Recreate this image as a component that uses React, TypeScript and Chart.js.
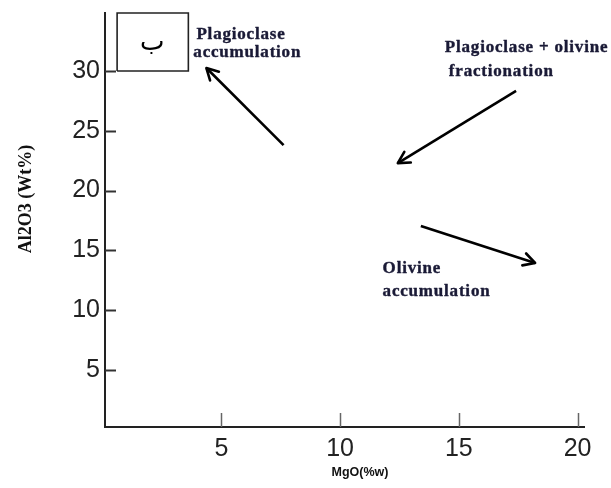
import React, { useEffect, useRef } from "react";
import { Chart, registerables } from "chart.js";
Chart.register(...registerables);

// ---- data ----
const xTicks = [5, 10, 15, 20];
const yTicks = [5, 10, 15, 20, 25, 30];
const xMin = 0.1;
const xMax = 20.27;
const yMin = 0.23;
const yMax = 34.85;

const plagAccArrow = [
  { x: 7.62, y: 23.8 },
  { x: 4.37, y: 30.25 },
];
const plagOlFracArrow = [
  { x: 17.41, y: 28.33 },
  { x: 12.43, y: 22.3 },
];
const olAccArrow = [
  { x: 13.4, y: 17.04 },
  { x: 18.21, y: 13.95 },
];
const boxCorners = [
  { x: 0.61, y: 30 },
  { x: 3.61, y: 30 },
  { x: 3.61, y: 34.85 },
  { x: 0.61, y: 34.85 },
  { x: 0.61, y: 30 },
];
const noteTexts = ["Plagioclase", "accumulation", "Plagioclase + olivine", "fractionation", "Olivine", "accumulation"];
const noteX = [3.95, 3.82, 14.41, 14.58, 11.79, 11.79];
const noteY = [32.68, 31.17, 31.59, 29.58, 13.11, 11.19];
const boxLabel = "ب";
const boxLabelPos = { x: 2.09, y: 32.36 };
const xTitle = "MgO(%w)";
const yTitle = "Al2O3 (Wt%)";

const tickFont = "'Liberation Sans'";

const annotPlugin = {
  id: "annot",
  afterDatasetsDraw(chart: any) {
    const ctx = chart.ctx as CanvasRenderingContext2D;
    const xs = chart.scales.x;
    const ys = chart.scales.y;
    const ca = chart.chartArea;
    ctx.save();
    // tick marks drawn inward
    ctx.strokeStyle = "#333";
    ctx.lineWidth = 2;
    yTicks.forEach((v) => {
      const py = Math.round(ys.getPixelForValue(v)) + 0.5;
      ctx.beginPath();
      ctx.moveTo(ca.left, py);
      ctx.lineTo(ca.left + 11, py);
      ctx.stroke();
    });
    ctx.strokeStyle = "#666";
    ctx.lineWidth = 1.5;
    xTicks.forEach((v) => {
      const px = Math.round(xs.getPixelForValue(v)) + 0.5;
      ctx.beginPath();
      ctx.moveTo(px, ca.bottom);
      ctx.lineTo(px, ca.bottom - 14);
      ctx.stroke();
    });
    // arrowheads
    chart.data.datasets.forEach((ds: any, i: number) => {
      if (!ds.arrow) return;
      const meta = chart.getDatasetMeta(i);
      const pts = meta.data;
      const a = pts[pts.length - 2];
      const b = pts[pts.length - 1];
      const ang = Math.atan2(b.y - a.y, b.x - a.x);
      const len = 13;
      const spread = 0.5;
      ctx.strokeStyle = "#000";
      ctx.lineWidth = 2.6;
      ctx.lineCap = "round";
      ctx.lineJoin = "round";
      ctx.beginPath();
      ctx.moveTo(b.x - len * Math.cos(ang - spread), b.y - len * Math.sin(ang - spread));
      ctx.lineTo(b.x, b.y);
      ctx.lineTo(b.x - len * Math.cos(ang + spread), b.y - len * Math.sin(ang + spread));
      ctx.stroke();
    });
    // annotation texts
    ctx.fillStyle = "#1a1a36";
    ctx.strokeStyle = "#1a1a36";
    ctx.lineWidth = 0.4;
    ctx.font = "bold 17px 'Liberation Serif'";
    (ctx as any).letterSpacing = "0.8px";
    ctx.textAlign = "left";
    ctx.textBaseline = "alphabetic";
    noteTexts.forEach((t, i) => {
      const px = xs.getPixelForValue(noteX[i]);
      const py = ys.getPixelForValue(noteY[i]);
      ctx.fillText(t, px, py);
      ctx.strokeText(t, px, py);
    });
    (ctx as any).letterSpacing = "0px";
    // box label
    ctx.fillStyle = "#000";
    ctx.font = "26px 'DejaVu Sans'";
    ctx.textAlign = "center";
    ctx.textBaseline = "middle";
    ctx.fillText(boxLabel, xs.getPixelForValue(boxLabelPos.x), ys.getPixelForValue(boxLabelPos.y));
    // axis titles
    ctx.fillStyle = "#111";
    ctx.font = "bold 12.5px 'Liberation Sans'";
    ctx.textAlign = "center";
    ctx.textBaseline = "middle";
    ctx.fillText(xTitle, 360, 473);
    ctx.save();
    ctx.translate(26, 199);
    ctx.rotate(-Math.PI / 2);
    ctx.font = "bold 18px 'Liberation Serif'";
    ctx.fillText(yTitle, 0, 0);
    ctx.restore();
    ctx.restore();
  },
};

export default function App() {
  const ref = useRef<HTMLCanvasElement | null>(null);
  useEffect(() => {
    if (!ref.current) return;
    const lineDs = (data: any[], extra: any = {}) => ({
      type: "line",
      data,
      borderColor: "#000",
      borderWidth: 2.6,
      pointRadius: 0,
      showLine: true,
      fill: false,
      clip: false,
      ...extra,
    });
    const chart = new Chart(ref.current, {
      type: "scatter",
      data: {
        datasets: [
          lineDs(boxCorners, { borderWidth: 1.6, borderColor: "#222" }),
          lineDs(plagAccArrow, { arrow: true }),
          lineDs(plagOlFracArrow, { arrow: true }),
          lineDs(olAccArrow, { arrow: true }),
        ] as any,
      },
      options: {
        animation: false,
        responsive: false,
        layout: { padding: { left: 0, top: 13, right: 27, bottom: 0 } },
        plugins: { legend: { display: false }, tooltip: { enabled: false } },
        events: [],
        scales: {
          x: {
            type: "linear",
            min: xMin,
            max: xMax,
            afterBuildTicks: (s: any) => {
              s.ticks = xTicks.map((v) => ({ value: v }));
            },
            afterFit: (s: any) => {
              s.height = 61;
              s.paddingLeft = 0;
              s.paddingRight = 0;
            },
            grid: { display: false, drawTicks: false },
            border: { display: true, color: "#222", width: 2 },
            ticks: {
              color: "#222",
              padding: 7,
              font: { family: tickFont, size: 25 },
            },
          },
          y: {
            type: "linear",
            min: yMin,
            max: yMax,
            afterBuildTicks: (s: any) => {
              s.ticks = yTicks.map((v) => ({ value: v }));
            },
            afterFit: (s: any) => {
              s.width = 105;
              s.paddingTop = 0;
              s.paddingBottom = 0;
            },
            grid: { display: false, drawTicks: false },
            border: { display: true, color: "#222", width: 2 },
            ticks: {
              color: "#222",
              padding: 5,
              font: { family: tickFont, size: 25 },
            },
          },
        },
      } as any,
      plugins: [annotPlugin],
    });
    return () => chart.destroy();
  }, []);
  return (
    <div style={{ position: "fixed", left: 0, top: 0, width: 611, height: 488, background: "#fff" }}>
      <canvas ref={ref} width={611} height={488} style={{ display: "block" }} />
    </div>
  );
}
